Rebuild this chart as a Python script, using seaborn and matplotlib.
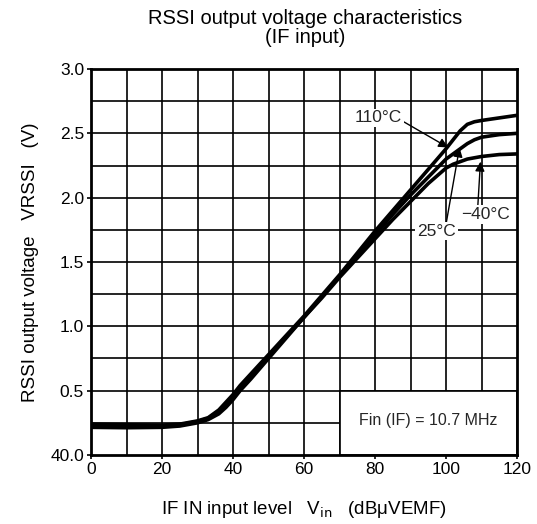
import matplotlib
matplotlib.use("Agg")
import matplotlib.pyplot as plt
import seaborn as sns
import pandas as pd
from matplotlib.patches import Rectangle

# ---- data ----
x_db = [0, 10, 20, 25, 30, 33, 36, 38, 40, 42, 45, 50, 55, 60, 65, 70, 75, 80, 85, 90, 95,
        100, 102, 104, 106, 108, 110, 115, 120]
v_110 = [0.24, 0.235, 0.232, 0.24, 0.265, 0.29, 0.35, 0.41, 0.47, 0.54, 0.63, 0.78, 0.93, 1.08, 1.24,
         1.40, 1.57, 1.74, 1.90, 2.06, 2.22, 2.38, 2.45, 2.52, 2.57, 2.59, 2.60, 2.62, 2.64]
v_25 = [0.23, 0.225, 0.225, 0.235, 0.26, 0.285, 0.34, 0.39, 0.45, 0.52, 0.61, 0.77, 0.92, 1.07, 1.23,
        1.39, 1.55, 1.71, 1.87, 2.02, 2.16, 2.30, 2.34, 2.38, 2.42, 2.45, 2.47, 2.49, 2.50]
v_m40 = [0.215, 0.212, 0.215, 0.225, 0.25, 0.275, 0.32, 0.37, 0.43, 0.50, 0.59, 0.75, 0.91, 1.07, 1.22,
         1.38, 1.53, 1.68, 1.83, 1.97, 2.11, 2.23, 2.26, 2.28, 2.30, 2.31, 2.32, 2.335, 2.34]
series_names = ["110°C", "25°C", "−40°C"]

x_ticks = [0, 20, 40, 60, 80, 100, 120]
y_ticks = [0, 0.5, 1.0, 1.5, 2.0, 2.5, 3.0]
y_tick_labels = ["40.0", "0.5", "1.0", "1.5", "2.0", "2.5", "3.0"]
grid_x = list(range(10, 120, 10))
grid_y = [i * 0.25 for i in range(1, 12)]

df = pd.DataFrame({
    "x": x_db * 3,
    "v": v_110 + v_25 + v_m40,
    "T": [series_names[0]] * len(x_db) + [series_names[1]] * len(x_db) + [series_names[2]] * len(x_db),
})

sns.set_theme(style="white")
plt.rcParams['font.family'] = ['Liberation Sans', 'DejaVu Sans']

fig = plt.figure(figsize=(5.37, 5.24), dpi=100)
ax = fig.add_axes([0.1695, 0.1317, 0.7933, 0.7366])

ax.set_xlim(0, 120)
ax.set_ylim(0, 3.0)

for gx in grid_x:
    ax.axvline(gx, color="black", linewidth=1.2, zorder=1)
for gy in grid_y:
    ax.axhline(gy, color="black", linewidth=1.2, zorder=1)

# box covering grid
ax.add_patch(Rectangle((70, 0), 50, 0.5, facecolor="white", edgecolor="black",
                       linewidth=1.2, zorder=1.5))
ax.text(95, 0.27, "Fin (IF) = 10.7 MHz", ha="center", va="center", fontsize=11.5, zorder=3)

sns.lineplot(data=df, x="x", y="v", hue="T", palette=["black"] * 3, linewidth=2.6,
             legend=False, ax=ax, zorder=4, estimator=None)

ax.set_xticks(x_ticks)
ax.set_xticklabels([str(t) for t in x_ticks])
ax.set_yticks(y_ticks)
ax.set_yticklabels(y_tick_labels)
ax.grid(False)
ax.tick_params(which="major", direction="out", length=3, width=1.2, color="black",
               labelsize=12.5, labelcolor="black", pad=2, left=True, bottom=True)

for s in ax.spines.values():
    s.set_color("black")
    s.set_linewidth(2.0)
    s.set_zorder(5)

ax.set_xlabel("IF IN input level   V$_{\\rm in}$   (dBμVEMF)", fontsize=13.5, color="black", labelpad=16)
ax.set_ylabel("RSSI output voltage   VRSSI   (V)", fontsize=13.5, color="black")
ax.yaxis.set_label_coords(-0.122, 0.5)
fig.text(0.568, 0.9656, "RSSI output voltage characteristics", ha="center", va="center",
         fontsize=14.5, color="black")
fig.text(0.568, 0.9275, "(IF input)", ha="center", va="center", fontsize=14.5, color="black")

arrow = dict(arrowstyle="-|>", color="black", lw=1.0, mutation_scale=14, shrinkA=0, shrinkB=0)
bb = dict(boxstyle="square,pad=0.1", facecolor="white", edgecolor="none")
ax.annotate("110°C", xy=(100.6, 2.39), xytext=(81, 2.62), ha="center", va="center",
            fontsize=12.5, arrowprops=dict(arrow, relpos=(1.0, 0.3)), bbox=bb, zorder=6)
ax.annotate("25°C", xy=(103.8, 2.39), xytext=(97.3, 1.74), ha="center", va="center",
            fontsize=12.5, arrowprops=dict(arrow, relpos=(0.75, 1.0)), bbox=bb, zorder=6)
ax.annotate("−40°C", xy=(109.7, 2.28), xytext=(111, 1.87), ha="center", va="center",
            fontsize=12.5, arrowprops=dict(arrow, relpos=(0.35, 1.0)), bbox=bb, zorder=6)

fig.savefig("out.png", dpi=100)
